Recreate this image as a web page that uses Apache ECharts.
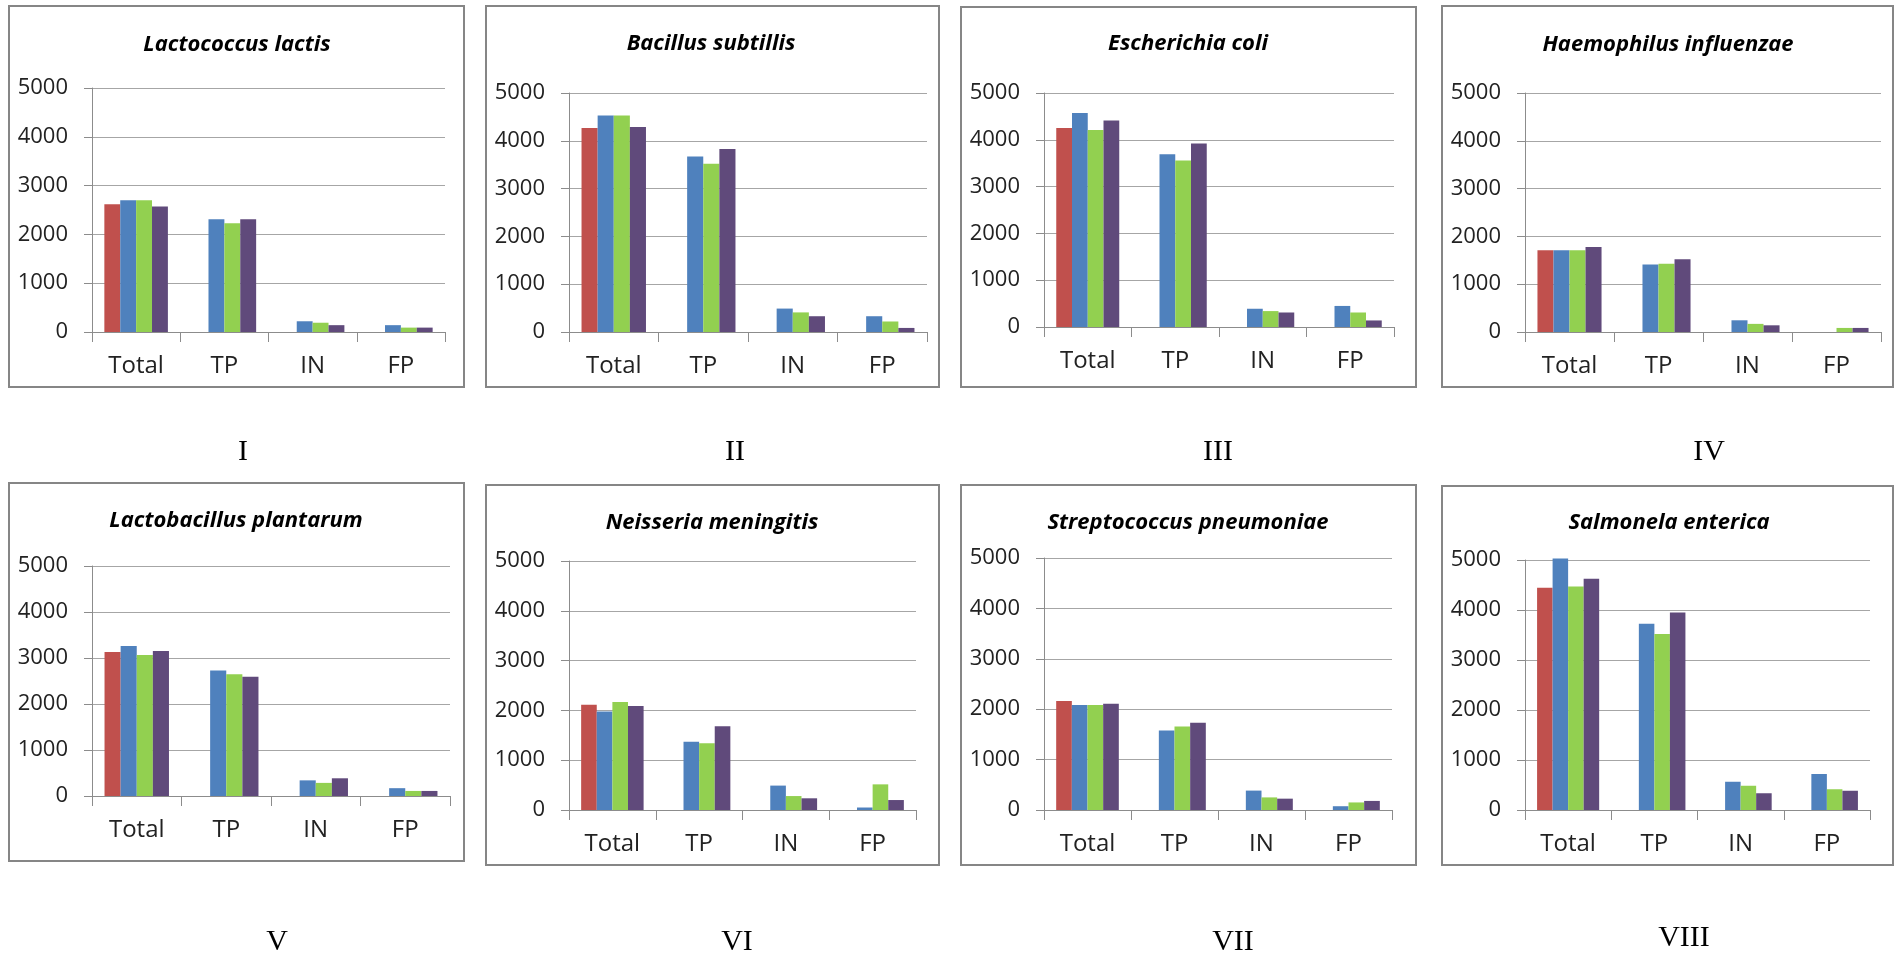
<!DOCTYPE html>
<html>
<head>
<meta charset="utf-8">
<title>Bar panels</title>
<script src="https://cdn.jsdelivr.net/npm/echarts@6/dist/echarts.min.js"></script>
<style>
  html, body { margin: 0; padding: 0; background: #fff; }
  #chart { width: 1896px; height: 955px; }
</style>
</head>
<body>
<div id="chart"></div>
<script>
// data
const categories = ['Total', 'TP', 'IN', 'FP']
const panelTitles = [
  'Lactococcus lactis', 'Bacillus subtillis', 'Escherichia coli', 'Haemophilus influenzae',
  'Lactobacillus plantarum', 'Neisseria meningitis', 'Streptococcus pneumoniae', 'Salmonela enterica'
]
const panelNumerals = ['I', 'II', 'III', 'IV', 'V', 'VI', 'VII', 'VIII']
const yTicks = [0, 1000, 2000, 3000, 4000, 5000]

// one row per panel, values for Total / TP / IN / FP
const redValues = [
  [2620, 0, 0, 0], [4270, 0, 0, 0], [4250, 0, 0, 0], [1710, 0, 0, 0],
  [3130, 0, 0, 0], [2115, 0, 0, 0], [2165, 0, 0, 0], [4445, 0, 0, 0]
]
const blueValues = [
  [2700, 2310, 220, 140], [4530, 3670, 490, 330], [4570, 3690, 390, 450], [1710, 1410, 245, 0],
  [3260, 2730, 340, 170], [1980, 1370, 490, 50], [2085, 1575, 385, 75], [5030, 3725, 565, 720]
]
const greenValues = [
  [2700, 2230, 190, 90], [4530, 3520, 410, 220], [4210, 3560, 340, 310], [1710, 1430, 170, 85],
  [3065, 2645, 285, 110], [2170, 1340, 280, 515], [2085, 1655, 250, 150], [4470, 3520, 485, 415]
]
const purpleValues = [
  [2570, 2310, 140, 90], [4290, 3830, 330, 85], [4410, 3920, 310, 140], [1780, 1520, 140, 85],
  [3150, 2595, 385, 110], [2090, 1680, 235, 200], [2110, 1730, 225, 180], [4625, 3950, 335, 385]
]

// layout (pixels)
const plotBoxes = [
  [92, 88, 353, 244], [569, 93, 358, 239], [1044, 93, 350, 234], [1525, 93, 356, 239],
  [92, 566, 358, 230], [569, 561, 347, 249], [1044, 558, 348, 252], [1525, 560, 345, 250]
]
const frameBoxes = [
  [9, 6, 455, 381], [486, 6, 453, 381], [961, 7, 455, 380], [1442, 6, 451, 381],
  [9, 483, 455, 378], [486, 485, 453, 380], [961, 485, 455, 380], [1442, 486, 451, 379]
]
const titlePos = [
  [237, 45], [711, 44], [1188, 44], [1668, 45],
  [236, 521], [712, 523], [1188, 523], [1669, 523]
]
const numeralPos = [
  [243, 452], [735, 452], [1218, 452], [1709, 452],
  [277, 942], [737, 942], [1233, 942], [1684, 938]
]

const colors = ['#C0504D', '#4F81BD', '#92D050', '#604A7B']
const seriesSets = [redValues, blueValues, greenValues, purpleValues]

const chart = echarts.init(document.getElementById('chart'))

const grids = [], xAxes = [], yAxes = [], series = [], graphics = []

plotBoxes.forEach((b, i) => {
  grids.push({ left: b[0], top: b[1], width: b[2], height: b[3], containLabel: false })
  xAxes.push({
    type: 'category',
    gridIndex: i,
    data: categories,
    axisLine: { lineStyle: { color: '#8c8c8c', width: 1 } },
    axisTick: { show: true, length: 10, lineStyle: { color: '#8c8c8c' } },
    axisLabel: { color: '#222', fontFamily: 'Open Sans', fontSize: 24, margin: 22 },
    splitLine: { show: false }
  })
  yAxes.push({
    type: 'value',
    gridIndex: i,
    min: yTicks[0],
    max: yTicks[yTicks.length - 1],
    interval: yTicks[1] - yTicks[0],
    axisLine: { show: true, lineStyle: { color: '#8c8c8c', width: 1 } },
    axisTick: { show: true, length: 8, lineStyle: { color: '#8c8c8c' } },
    axisLabel: {
      color: '#222', fontFamily: 'Open Sans', fontSize: 22, margin: 24,
      formatter: v => String(v)
    },
    splitLine: { lineStyle: { color: '#a6a6a6', width: 1 } }
  })
  seriesSets.forEach((set, k) => {
    series.push({
      type: 'bar',
      xAxisIndex: i,
      yAxisIndex: i,
      data: set[i],
      barGap: '0%',
      barCategoryGap: '28%',
      clip: false,
      silent: true,
      itemStyle: { color: colors[k] }
    })
  })

  const f = frameBoxes[i]
  graphics.push({
    type: 'rect',
    shape: { x: f[0], y: f[1], width: f[2], height: f[3] },
    style: { fill: 'none', stroke: '#868686', lineWidth: 2 },
    silent: true
  })
  graphics.push({
    type: 'text',
    x: titlePos[i][0],
    y: titlePos[i][1],
    style: {
      text: panelTitles[i],
      fontFamily: 'Open Sans',
      fontStyle: 'italic',
      fontWeight: 'bold',
      fontSize: 22,
      fill: '#000',
      textAlign: 'center',
      textVerticalAlign: 'middle'
    }
  })
  graphics.push({
    type: 'text',
    x: numeralPos[i][0],
    y: numeralPos[i][1],
    style: {
      text: panelNumerals[i],
      fontFamily: 'Liberation Serif',
      fontSize: 30,
      fill: '#000',
      textAlign: 'center',
      textVerticalAlign: 'middle'
    }
  })
})

chart.setOption({
  backgroundColor: '#fff',
  animation: false,
  grid: grids,
  xAxis: xAxes,
  yAxis: yAxes,
  series: series,
  graphic: graphics
})
</script>
</body>
</html>
